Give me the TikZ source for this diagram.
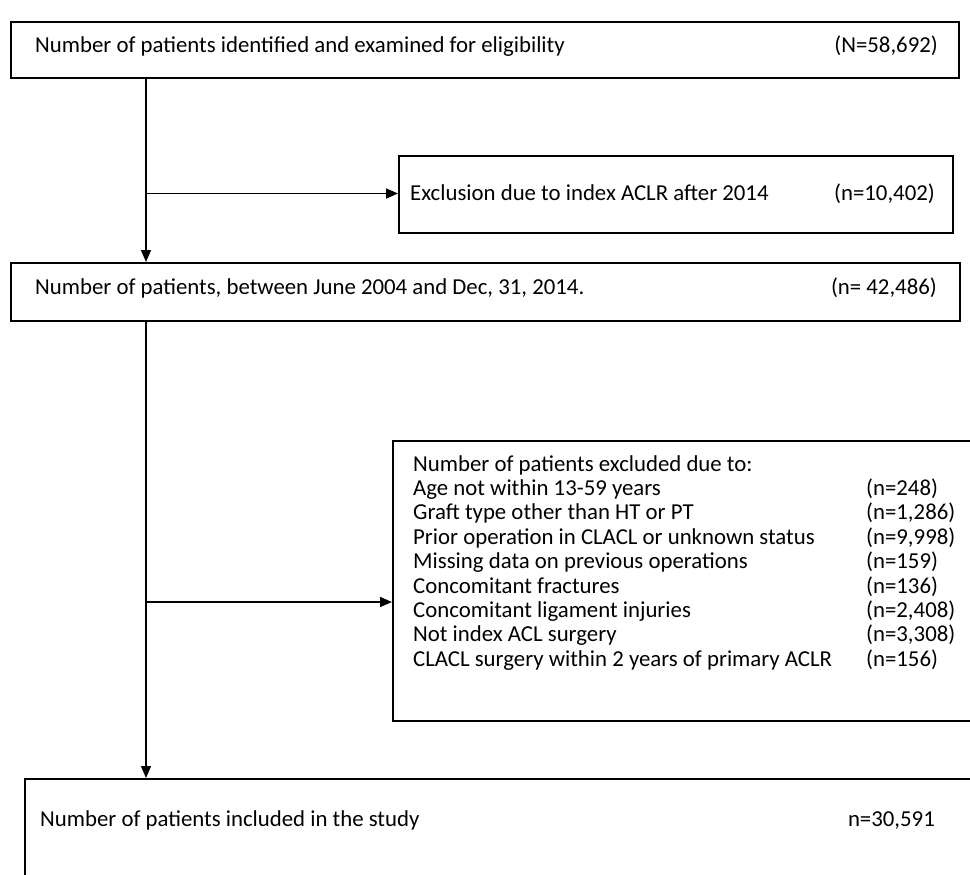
\documentclass[tikz,border=0pt]{standalone}
\usepackage{fontspec}
\setmainfont{Carlito}
\usetikzlibrary{arrows.meta}
\begin{document}
\begin{tikzpicture}[x=1pt,y=-1pt,
  box/.style={draw=black,line width=1.8pt,rectangle,inner sep=0pt,anchor=north west},
  txt/.style={anchor=base west,inner sep=0pt,font=\fontsize{22.8}{24}\selectfont},
  rtxt/.style={anchor=base east,inner sep=0pt,font=\fontsize{22.8}{24}\selectfont},
  arr/.style={line width=1.6pt,-{Triangle[length=12pt,width=10pt]}}]
\useasboundingbox (0,0) rectangle (970,875);
\fill[white] (0,0) rectangle (970,875);
\clip (0,0) rectangle (970,875);
% boxes
\node[box,minimum width=948pt,minimum height=56pt] (b1) at (10,21) {};
\node[box,minimum width=554pt,minimum height=77pt] (bE) at (398,155) {};
\node[box,minimum width=949pt,minimum height=58pt] (b2) at (10,262) {};
\node[box,minimum width=600pt,minimum height=280pt] (b3) at (392,440) {};
\node[box,minimum width=980pt,minimum height=140pt] (b4) at (24,778) {};
% texts
\node[txt] (t1) at (35,53) {Number of patients identified and examined for eligibility};
\node[rtxt] (n1) at (938,53) {(N=58,692)};
\node[txt] (tE) at (410,200) {Exclusion due to index ACLR after 2014};
\node[rtxt] (nE) at (935,200) {(n=10,402)};
\node[txt] (t2) at (35,294) {Number of patients, between June 2004 and Dec, 31, 2014.};
\node[rtxt] (n2) at (937,294) {(n= 42,486)};
\node[txt] (h3) at (413,471) {Number of patients excluded due to:};
\foreach \i/\a/\b in {1/{Age not within 13-59 years}/{(n=248)},
  2/{Graft type other than HT or PT}/{(n=1,286)},
  3/{Prior operation in CLACL or unknown status}/{(n=9,998)},
  4/{Missing data on previous operations}/{(n=159)},
  5/{Concomitant fractures}/{(n=136)},
  6/{Concomitant ligament injuries}/{(n=2,408)},
  7/{Not index ACL surgery}/{(n=3,308)},
  8/{CLACL surgery within 2 years of primary ACLR}/{(n=156)}}{
  \node[txt] (l\i) at (413,{471+24.4*\i}) {\a};
  \node[txt] (r\i) at (866,{471+24.4*\i}) {\b};
}
\node[txt] (t4) at (40,826) {Number of patients included in the study};
\node[rtxt] (n4) at (935,826) {n=30,591};
% connectors
\coordinate (j1) at (146,193.5);
\coordinate (j2) at (146,602);
\draw[arr] (b1.south -| j1) -- (b2.north -| j1);
\draw[arr] (j1) -- (bE.west |- j1);
\draw[arr] (b2.south -| j2) -- (b4.north -| j2);
\draw[arr] (j2) -- (b3.west |- j2);
\end{tikzpicture}
\end{document}
